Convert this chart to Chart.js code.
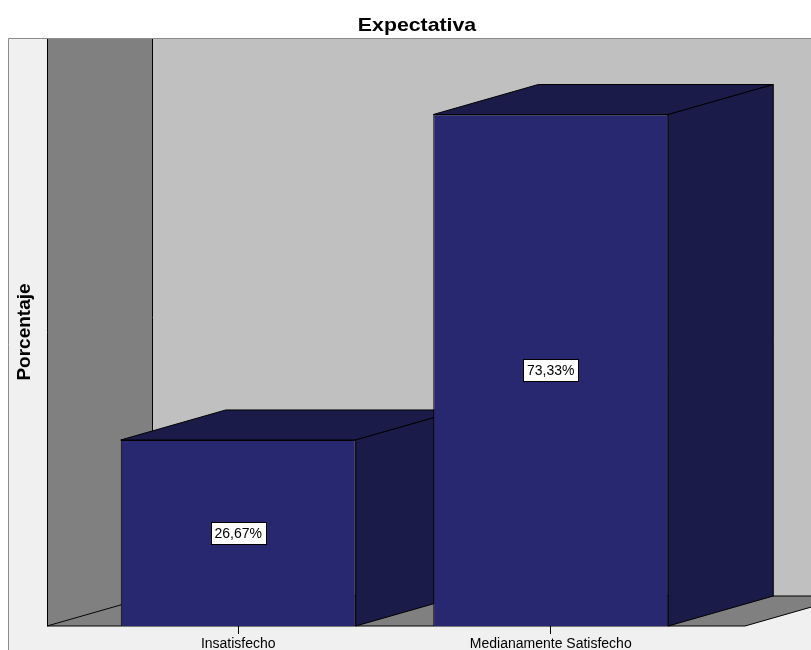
<!DOCTYPE html>
<html lang="es">
<head>
<meta charset="utf-8">
<title>Expectativa</title>
<script src="https://cdn.jsdelivr.net/npm/chart.js@4"></script>
<style>
  html, body { margin: 0; padding: 0; background: #fff; }
  #wrap { width: 811px; height: 650px; }
</style>
</head>
<body>
<div id="wrap"><canvas id="expectativaChart"></canvas></div>
<script>
const categorias = ["Insatisfecho", "Medianamente Satisfecho"];
const porcentajes = [26.67, 73.33];
const tituloGrafico = "Expectativa";
const tituloEjeY = "Porcentaje";

// desplazamiento del fondo para el efecto 3D
const PROF_X = 105;
const PROF_Y = -30;

const formatoPct = v => v.toFixed(2).replace(".", ",") + "%";

// paredes, suelo y caras laterales/superiores de las barras
const escena3D = {
  id: "escena3D",
  beforeDraw(chart) {
    const ctx = chart.ctx;
    const a = chart.chartArea;
    const arriba = a.top + PROF_Y;
    const x0 = a.left - 35;
    const x1 = a.right + 38;
    const yf = a.bottom;

    ctx.save();
    ctx.fillStyle = "#fff";
    ctx.fillRect(0, 0, chart.width, chart.height);

    // marco gris claro
    ctx.fillStyle = "#f0f0f0";
    ctx.fillRect(8, arriba, chart.width - 8, chart.height - arriba);
    ctx.strokeStyle = "#8c8c8c";
    ctx.lineWidth = 1;
    ctx.beginPath();
    ctx.moveTo(8.5, chart.height);
    ctx.lineTo(8.5, arriba + 0.5);
    ctx.lineTo(chart.width, arriba + 0.5);
    ctx.stroke();

    ctx.strokeStyle = "#000";
    // pared del fondo
    ctx.fillStyle = "#c0c0c0";
    ctx.fillRect(x0 + PROF_X, arriba + 1, chart.width - x0 - PROF_X, yf + PROF_Y - arriba - 1);

    // pared izquierda
    ctx.fillStyle = "#808080";
    ctx.beginPath();
    ctx.moveTo(x0, arriba + 1);
    ctx.lineTo(x0 + PROF_X, arriba + 1);
    ctx.lineTo(x0 + PROF_X, yf + PROF_Y);
    ctx.lineTo(x0, yf);
    ctx.closePath();
    ctx.fill();
    ctx.beginPath();
    ctx.moveTo(x0 + 0.5, arriba + 1);
    ctx.lineTo(x0 + 0.5, yf);
    ctx.moveTo(x0 + PROF_X + 0.5, arriba + 1);
    ctx.lineTo(x0 + PROF_X + 0.5, yf + PROF_Y);
    ctx.stroke();

    // suelo
    ctx.fillStyle = "#808080";
    ctx.beginPath();
    ctx.moveTo(x0, yf);
    ctx.lineTo(x1, yf);
    ctx.lineTo(x1 + PROF_X, yf + PROF_Y);
    ctx.lineTo(x0 + PROF_X, yf + PROF_Y);
    ctx.closePath();
    ctx.fill();
    ctx.stroke();
    ctx.restore();
  },
  beforeDatasetsDraw(chart) {
    const ctx = chart.ctx;
    ctx.save();
    ctx.fillStyle = "#1b1b4a";
    ctx.strokeStyle = "#000";
    ctx.lineWidth = 1;
    chart.getDatasetMeta(0).data.forEach(bar => {
      const izq = bar.x - bar.width / 2;
      const der = bar.x + bar.width / 2;
      // cara superior
      ctx.beginPath();
      ctx.moveTo(izq, bar.y);
      ctx.lineTo(der, bar.y);
      ctx.lineTo(der + PROF_X, bar.y + PROF_Y);
      ctx.lineTo(izq + PROF_X, bar.y + PROF_Y);
      ctx.closePath();
      ctx.fill();
      ctx.stroke();
      // cara lateral
      ctx.beginPath();
      ctx.moveTo(der, bar.y);
      ctx.lineTo(der + PROF_X, bar.y + PROF_Y);
      ctx.lineTo(der + PROF_X, bar.base + PROF_Y);
      ctx.lineTo(der, bar.base);
      ctx.closePath();
      ctx.fill();
      ctx.stroke();
    });
    ctx.restore();
  },
  afterDatasetsDraw(chart) {
    const ctx = chart.ctx;
    ctx.save();
    ctx.font = "14px 'Liberation Sans', Arial, sans-serif";
    ctx.textAlign = "center";
    ctx.textBaseline = "middle";
    chart.getDatasetMeta(0).data.forEach((bar, i) => {
      const txt = formatoPct(porcentajes[i]);
      const w = Math.round(ctx.measureText(txt).width) + 8;
      const h = 22;
      const cy = Math.round((bar.y + bar.base) / 2);
      const bx = Math.round(bar.x - w / 2) + 0.5;
      const by = Math.round(cy - h / 2) + 0.5;
      ctx.fillStyle = "#fff";
      ctx.fillRect(bx, by, w, h);
      ctx.strokeStyle = "#000";
      ctx.strokeRect(bx, by, w, h);
      ctx.fillStyle = "#000";
      ctx.fillText(txt, bar.x, cy + 1);
    });

    // título del gráfico, algo ensanchado
    ctx.save();
    ctx.translate(417, 26);
    ctx.scale(1.15, 1);
    ctx.font = "bold 18.5px 'Liberation Sans', Arial, sans-serif";
    ctx.fillText(tituloGrafico, 0, 0);
    ctx.restore();

    // título del eje Y
    ctx.translate(25, 332);
    ctx.rotate(-Math.PI / 2);
    ctx.font = "bold 19px 'Liberation Sans', Arial, sans-serif";
    ctx.fillText(tituloEjeY, 0, 0);
    ctx.restore();
  }
};

new Chart(document.getElementById("expectativaChart"), {
  type: "bar",
  data: {
    labels: categorias,
    datasets: [{
      label: tituloEjeY,
      data: porcentajes,
      backgroundColor: "#282870",
      borderColor: "#000",
      borderWidth: 1,
      barPercentage: 1,
      categoryPercentage: 0.752
    }]
  },
  options: {
    responsive: true,
    maintainAspectRatio: false,
    animation: false,
    layout: { padding: { left: 82, right: 104, top: 68, bottom: -4 } },
    plugins: {
      legend: { display: false },
      title: { display: false },
      tooltip: { enabled: false }
    },
    scales: {
      x: {
        offset: true,
        border: { display: false },
        grid: {
          offset: false,
          drawOnChartArea: false,
          drawTicks: true,
          tickLength: 8,
          color: "#000"
        },
        ticks: {
          color: "#000",
          padding: 3,
          maxRotation: 0,
          autoSkip: false,
          font: { family: "'Liberation Sans', Arial, sans-serif", size: 14, lineHeight: 1 }
        }
      },
      y: {
        display: false,
        min: 0,
        max: 80
      }
    }
  },
  plugins: [escena3D]
});
</script>
</body>
</html>
